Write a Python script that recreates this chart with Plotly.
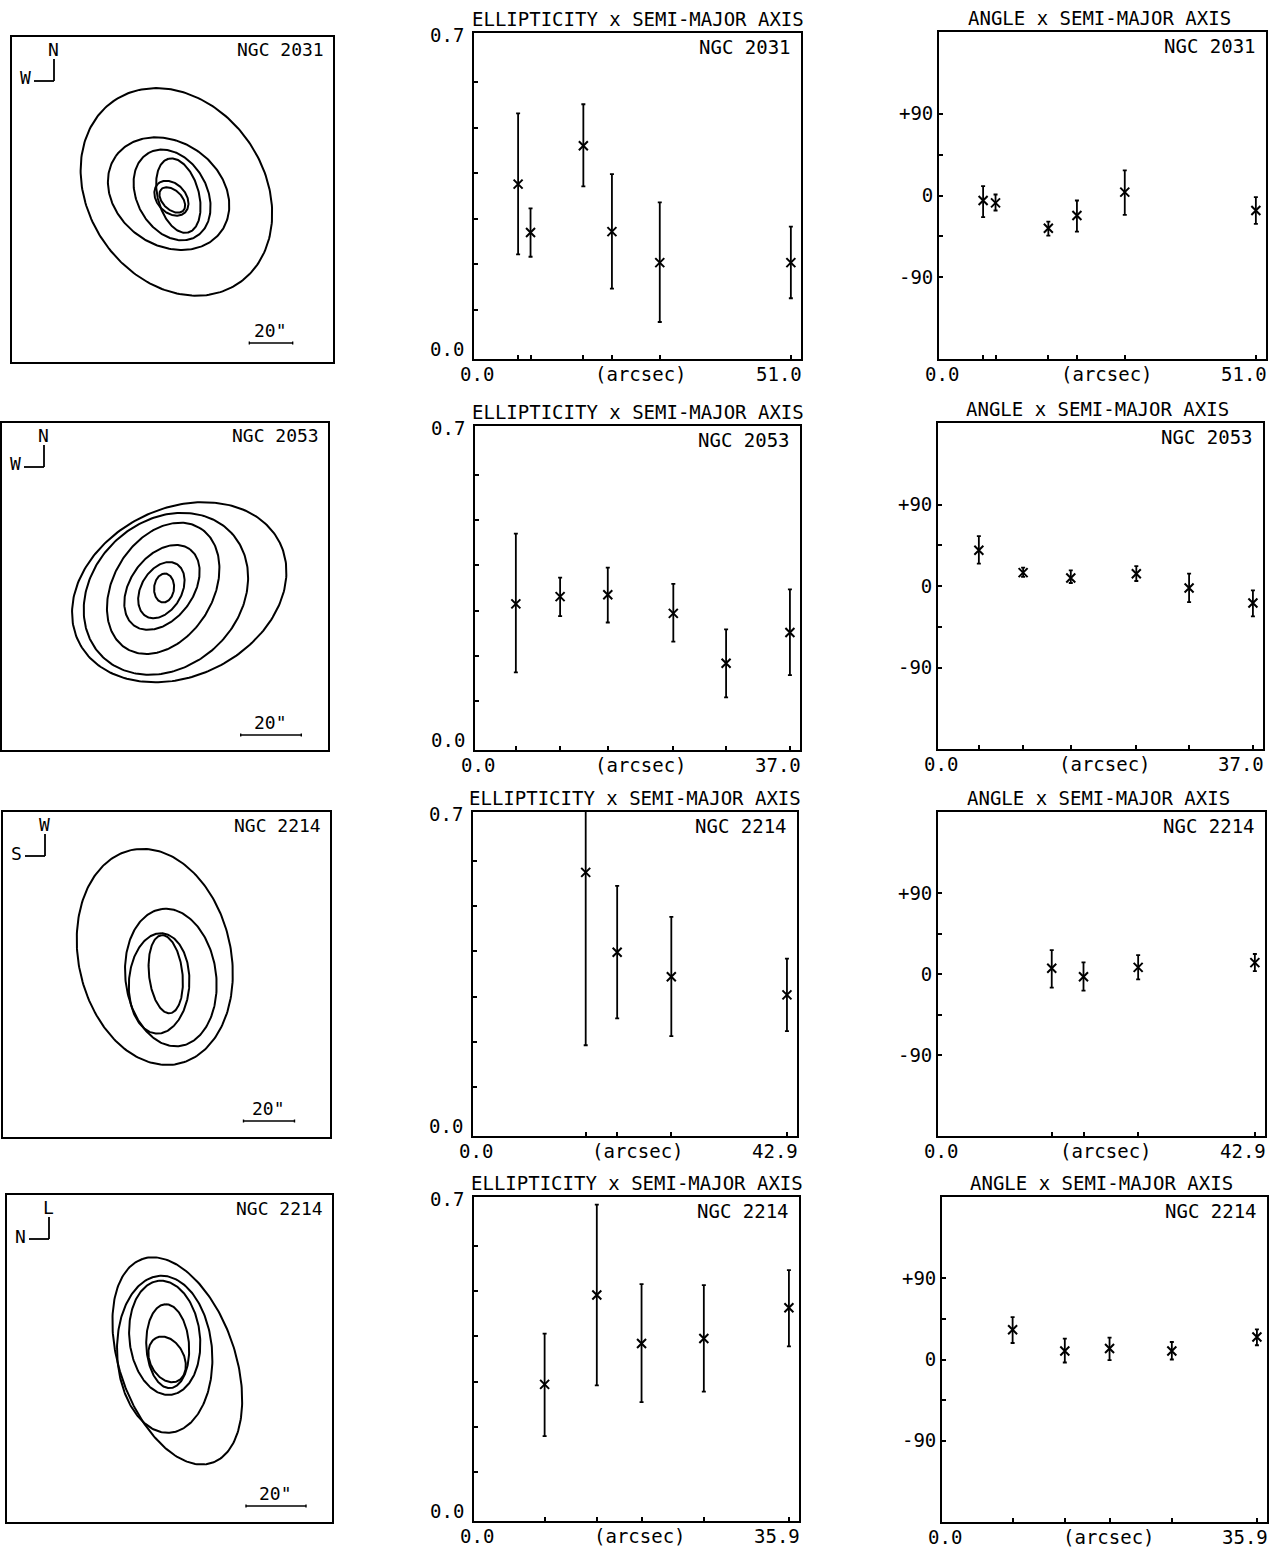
import numpy as np
import plotly.graph_objects as go

# ---------------- data ----------------
galaxy_names = ["NGC 2031", "NGC 2053", "NGC 2214", "NGC 2214"]
compass_up = ["N", "N", "W", "L"]
compass_left = ["W", "W", "S", "N"]
x_max = [51.0, 37.0, 42.9, 35.9]
x_max_text = ["51.0", "37.0", "42.9", "35.9"]
scale_bar_arcsec = 20.0

# NGC 2031
sma_2031 = [7.1, 9.1, 17.6, 22.2, 29.9, 51.0]
ell_2031 = [0.376, 0.270, 0.460, 0.272, 0.204, 0.204]
ell_hi_2031 = [0.531, 0.323, 0.551, 0.398, 0.336, 0.283]
ell_lo_2031 = [0.222, 0.217, 0.371, 0.147, 0.074, 0.126]
pa_2031 = [-5.5, -8.1, -36.0, -22.0, 3.7, -16.5]
pa_hi_2031 = [10.3, 1.1, -28.7, -5.5, 27.6, -1.8]
pa_lo_2031 = [-23.9, -16.5, -44.1, -39.7, -21.3, -31.2]
cx_2031 = [-0.1, -0.5, 2.7, -0.2, -1.8, 1.8]
cy_2031 = [-0.2, 0.6, 1.8, 2.1, 2.7, 3.5]

# NGC 2053
sma_2053 = [4.8, 10.0, 15.6, 23.3, 29.5, 37.0]
ell_2053 = [0.315, 0.331, 0.335, 0.294, 0.184, 0.252]
ell_hi_2053 = [0.470, 0.373, 0.395, 0.359, 0.259, 0.347]
ell_lo_2053 = [0.164, 0.288, 0.274, 0.232, 0.109, 0.158]
pa_2053 = [39.5, 14.8, 8.9, 13.6, -2.2, -18.8]
pa_hi_2053 = [55.0, 20.3, 17.3, 22.0, 13.6, -4.8]
pa_lo_2053 = [24.7, 10.0, 3.3, 5.5, -17.7, -33.6]
cx_2053 = [-0.3, -1.2, -1.0, -0.6, 0.3, 4.7]
cy_2053 = [-0.5, -1.2, -0.3, -0.6, -2.4, -1.9]

# NGC 2214 (first field)
sma_2214a = [15.4, 19.7, 27.1, 42.9]
ell_2214a = [0.574, 0.398, 0.344, 0.304]
ell_hi_2214a = [0.72, 0.544, 0.476, 0.384]
ell_lo_2214a = [0.193, 0.252, 0.213, 0.224]
pa_2214a = [6.3, -3.0, 7.4, 12.6]
pa_hi_2214a = [26.6, 12.9, 21.0, 22.2]
pa_lo_2214a = [-15.2, -18.5, -5.9, 3.3]
cx_2214a = [-0.3, -2.9, 1.7, -4.6]
cy_2214a = [0.1, -3.5, -1.2, 6.9]

# NGC 2214 (second field)
sma_2214b = [8.05, 14.0, 19.1, 26.2, 35.9]
ell_2214b = [0.294, 0.491, 0.384, 0.395, 0.463]
ell_hi_2214b = [0.406, 0.690, 0.515, 0.513, 0.546]
ell_lo_2214b = [0.180, 0.292, 0.255, 0.278, 0.378]
pa_2214b = [33.0, 9.5, 12.1, 9.5, 24.9]
pa_hi_2214b = [46.9, 23.1, 24.2, 19.4, 33.4]
pa_lo_2214b = [18.3, -3.3, -0.7, 0.0, 15.8]
cx_2214b = [-0.8, -0.6, -1.6, -1.6, 2.6]
cy_2214b = [-0.3, 4.1, 6.9, 1.4, -0.8]

rows = [
    (sma_2031, ell_2031, ell_hi_2031, ell_lo_2031, pa_2031, pa_hi_2031, pa_lo_2031, cx_2031, cy_2031),
    (sma_2053, ell_2053, ell_hi_2053, ell_lo_2053, pa_2053, pa_hi_2053, pa_lo_2053, cx_2053, cy_2053),
    (sma_2214a, ell_2214a, ell_hi_2214a, ell_lo_2214a, pa_2214a, pa_hi_2214a, pa_lo_2214a, cx_2214a, cy_2214a),
    (sma_2214b, ell_2214b, ell_hi_2214b, ell_lo_2214b, pa_2214b, pa_hi_2214b, pa_lo_2214b, cx_2214b, cy_2214b),
]

# ---------------- layout (pixels) ----------------
W, H = 1281, 1550
FONT = "DejaVu Sans Mono"
LEFT_FR = [(12, 333, 37, 362), (2, 328, 423, 750), (3, 330, 812, 1137), (7, 332, 1195, 1522)]
MID_FR = [(474, 801, 33, 359), (475, 800, 426, 750), (473, 797, 812, 1136), (474, 799, 1197, 1521)]
RIGHT_FR = [(939, 1266, 32, 359), (938, 1263, 423, 749), (938, 1265, 812, 1136), (942, 1267, 1197, 1522)]
PX_PER_ARCSEC = [2.167, 3.03, 2.55, 3.0]
ROT = [141, 45, 90, 84]          # image orientation offset of the angle scale
BAR_CX = [271, 271, 269, 276]
BAR_Y = [343, 735, 1121, 1506]


def px(xp):
    return xp / W


def py(yp):
    return 1 - yp / H


fig = go.Figure()
layout = dict(width=W, height=H, margin=dict(l=0, r=0, t=0, b=0),
              plot_bgcolor="white", paper_bgcolor="white", showlegend=False,
              font=dict(family=FONT, color="black"))
annotations = []
shapes = []


def ann(text, xp, yp, xanchor="center", size=19):
    annotations.append(dict(text=text, x=px(xp), y=py(yp), xref="paper", yref="paper",
                            xanchor=xanchor, yanchor="middle", showarrow=False,
                            font=dict(family=FONT, size=size, color="black")))


def line_px(x0, y0, x1, y1, w=1.8):
    shapes.append(dict(type="line", xref="paper", yref="paper",
                       x0=px(x0), y0=py(y0), x1=px(x1), y1=py(y1),
                       line=dict(color="black", width=w)))


def axis_pair(n, frame, xr, yr, xextra=None, yextra=None):
    x0, x1, y0, y1 = frame
    xname = "xaxis" if n == 1 else f"xaxis{n}"
    yname = "yaxis" if n == 1 else f"yaxis{n}"
    base = dict(showline=True, mirror=True, linecolor="black", linewidth=1.8,
                showgrid=False, zeroline=False, fixedrange=True)
    xa = dict(base, domain=[px(x0), px(x1)], range=xr, anchor=f"y{n}" if n > 1 else "y")
    ya = dict(base, domain=[py(y1), py(y0)], range=yr, anchor=f"x{n}" if n > 1 else "x")
    xa.update(xextra or dict(showticklabels=False, ticks=""))
    ya.update(yextra or dict(showticklabels=False, ticks=""))
    layout[xname] = xa
    layout[yname] = ya
    return ("x" if n == 1 else f"x{n}"), ("y" if n == 1 else f"y{n}")


t = np.linspace(0, 2 * np.pi, 241)

for r, (sma, ell, ehi, elo, pa, phi_, plo, cxs, cys) in enumerate(rows):
    sma = np.array(sma); ell = np.array(ell); ehi = np.array(ehi); elo = np.array(elo)
    pa = np.array(pa); phi_ = np.array(phi_); plo = np.array(plo)

    # ---------- left: isophotes ----------
    fr = LEFT_FR[r]
    s = PX_PER_ARCSEC[r]
    hw = (fr[1] - fr[0]) / 2 / s
    hh = (fr[3] - fr[2]) / 2 / s
    xa, ya = axis_pair(3 * r + 1, fr, [-hw, hw], [-hh, hh])
    for a, e, ang, cx, cy in zip(sma, ell, pa, cxs, cys):
        b = a * (1 - e)
        ph = np.deg2rad(ang + ROT[r])
        xs = cx + a * np.cos(t) * np.cos(ph) - b * np.sin(t) * np.sin(ph)
        ys = cy + a * np.cos(t) * np.sin(ph) + b * np.sin(t) * np.cos(ph)
        fig.add_trace(go.Scatter(x=xs, y=ys, mode="lines", xaxis=xa, yaxis=ya,
                                 line=dict(color="black", width=2), hoverinfo="skip"))
    l, rr, tp, bt = fr
    ann(galaxy_names[r], rr - 7, tp + 13, xanchor="right", size=18)
    # compass
    ann(compass_up[r], l + 41, tp + 12, size=18)
    line_px(l + 42, tp + 22, l + 42, tp + 44)
    line_px(l + 22, tp + 44, l + 42, tp + 44)
    ann(compass_left[r], l + 13.5, tp + 41, size=18)
    # scale bar
    blen = scale_bar_arcsec * s
    bx0, bx1, by = BAR_CX[r] - blen / 2, BAR_CX[r] + blen / 2, BAR_Y[r]
    line_px(bx0, by, bx1, by, w=1.4)
    line_px(bx0, by - 1.5, bx0, by + 1.5, w=1.4)
    line_px(bx1, by - 1.5, bx1, by + 1.5, w=1.4)
    ann("20\"", BAR_CX[r] - 1, by - 13, size=18)

    # ---------- middle: ellipticity ----------
    fr = MID_FR[r]
    xr = [0, x_max[r] * 1.032]
    xa, ya = axis_pair(3 * r + 2, fr, xr, [-0.007, 0.707],
                       xextra=dict(tickvals=list(sma), ticks="inside", ticklen=4, tickwidth=1.5,
                                   tickcolor="black", showticklabels=False),
                       yextra=dict(tickvals=[0.1, 0.2, 0.3, 0.4, 0.5, 0.6], ticks="inside", ticklen=4,
                                   tickwidth=1.5, tickcolor="black", showticklabels=False))
    fig.add_trace(go.Scatter(x=sma, y=ell, mode="markers", xaxis=xa, yaxis=ya,
                             marker=dict(symbol="x-thin", size=9, color="black",
                                         line=dict(color="black", width=2)),
                             error_y=dict(type="data", symmetric=False, array=ehi - ell,
                                          arrayminus=ell - elo, color="black", thickness=1.8, width=2)))
    l, rr, tp, bt = fr
    ann("ELLIPTICITY x SEMI-MAJOR AXIS", (l + rr) / 2, tp - 14)
    ann(galaxy_names[r], rr - 8, tp + 14, xanchor="right")
    ann("0.7", l - 8, tp + 2, xanchor="right")
    ann("0.0", l - 8, bt - 10, xanchor="right")
    ann("0.0", l + 3, bt + 15)
    ann("(arcsec)", (l + rr) / 2 + 3, bt + 15)
    ann(x_max_text[r], rr + 3, bt + 15, xanchor="right")

    # ---------- right: position angle ----------
    fr = RIGHT_FR[r]
    xa, ya = axis_pair(3 * r + 3, fr, xr, [-180, 180],
                       xextra=dict(tickvals=list(sma), ticks="inside", ticklen=4, tickwidth=1.5,
                                   tickcolor="black", showticklabels=False),
                       yextra=dict(tickvals=[-90, -45, 0, 45, 90], ticktext=["-90", "", "0", "", "+90"],
                                   ticks="inside", ticklen=4, tickwidth=1.5, tickcolor="black",
                                   tickfont=dict(family=FONT, size=19, color="black")))
    fig.add_trace(go.Scatter(x=sma, y=pa, mode="markers", xaxis=xa, yaxis=ya,
                             marker=dict(symbol="x-thin", size=9, color="black",
                                         line=dict(color="black", width=2)),
                             error_y=dict(type="data", symmetric=False, array=phi_ - pa,
                                          arrayminus=pa - plo, color="black", thickness=1.8, width=2)))
    l, rr, tp, bt = fr
    ann("ANGLE x SEMI-MAJOR AXIS", (l + rr) / 2 - 3, tp - 14)
    ann(galaxy_names[r], rr - 8, tp + 14, xanchor="right")
    ann("0.0", l + 3, bt + 15)
    ann("(arcsec)", (l + rr) / 2 + 4, bt + 15)
    ann(x_max_text[r], rr + 3, bt + 15, xanchor="right")

layout["annotations"] = annotations
layout["shapes"] = shapes
fig.update_layout(**layout)
fig.write_html("out.html", config={"displayModeBar": False},
               post_script="document.body.style.margin='0px';document.body.style.overflow='hidden';")
